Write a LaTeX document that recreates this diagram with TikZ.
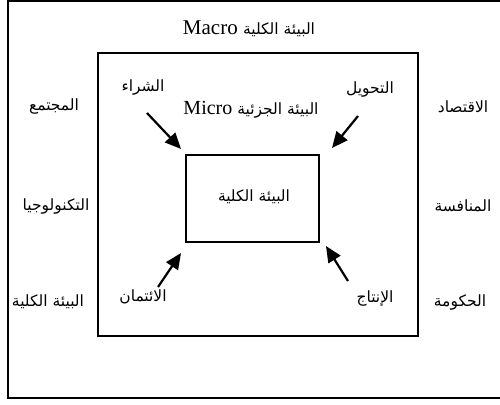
\documentclass[tikz,border=0pt]{standalone}
\usepackage{fontspec}
\setmainfont{Liberation Serif}
\newfontfamily\arabicfont[Script=Arabic]{DejaVu Sans}
\TeXXeTstate=1
\usetikzlibrary{arrows.meta}
\begin{document}
\begin{tikzpicture}[x=1pt,y=-1pt,
  frame/.style={draw=black,line width=2pt},
  lbl/.style={inner sep=0pt,font=\arabicfont\fontsize{15.5}{18}\selectfont},
  arr/.style={line width=2.2pt,-{Triangle[length=16pt,width=14pt]}}]
\useasboundingbox (0,0) rectangle (500,404);
\fill[white] (0,0) rectangle (500,404);
% outer frame (right side cut off)
\draw[frame] (505,1.5) -- (8,1.5) -- (8,398) -- (505,398);
% middle frame
\draw[frame] (98,53) rectangle (418,336);
% inner box
\node[frame,minimum width=133pt,minimum height=87pt,inner sep=0pt] (core) at (252.5,198.5) {};
\node[lbl] (coretxt) at (254,197) {\beginR البيئة الكلية\endR};
% titles
\node[inner sep=0pt] (macro) at (249,29) {\fontsize{21}{24}\selectfont Macro {\arabicfont\fontsize{15.5}{18}\selectfont\beginR البيئة الكلية\endR}};
\node[inner sep=0pt] (micro) at (251,110) {\fontsize{20}{24}\selectfont Micro {\arabicfont\fontsize{15.5}{18}\selectfont\beginR البيئة الجزئية\endR}};
% left column
\node[lbl] (mujtama) at (54,107) {\beginR المجتمع\endR};
\node[lbl] (tech) at (56,207) {\beginR التكنولوجيا\endR};
\node[lbl] (kulliya) at (48,302) {\beginR البيئة الكلية\endR};
% right column
\node[lbl] (iqtisad) at (463,107) {\beginR الاقتصاد\endR};
\node[lbl] (munafasa) at (463,206) {\beginR المنافسة\endR};
\node[lbl] (hukuma) at (460,302) {\beginR الحكومة\endR};
% inner labels
\node[lbl] (shira) at (143,88) {\beginR الشراء\endR};
\node[lbl] (tahwil) at (370,90) {\beginR التحويل\endR};
\node[lbl] (itiman) at (143,297) {\beginR الائتمان\endR};
\node[lbl] (intaj) at (375,298) {\beginR الإنتاج\endR};
% arrows
\coordinate (a1s) at (147,113); \coordinate (a1e) at (181,149);
\coordinate (a2s) at (358,116); \coordinate (a2e) at (332,148);
\coordinate (a3s) at (158,287); \coordinate (a3e) at (181,253);
\coordinate (a4s) at (348,281); \coordinate (a4e) at (326,246);
\draw[arr] (a1s) -- (a1e);
\draw[arr] (a2s) -- (a2e);
\draw[arr] (a3s) -- (a3e);
\draw[arr] (a4s) -- (a4e);
\end{tikzpicture}
\end{document}
